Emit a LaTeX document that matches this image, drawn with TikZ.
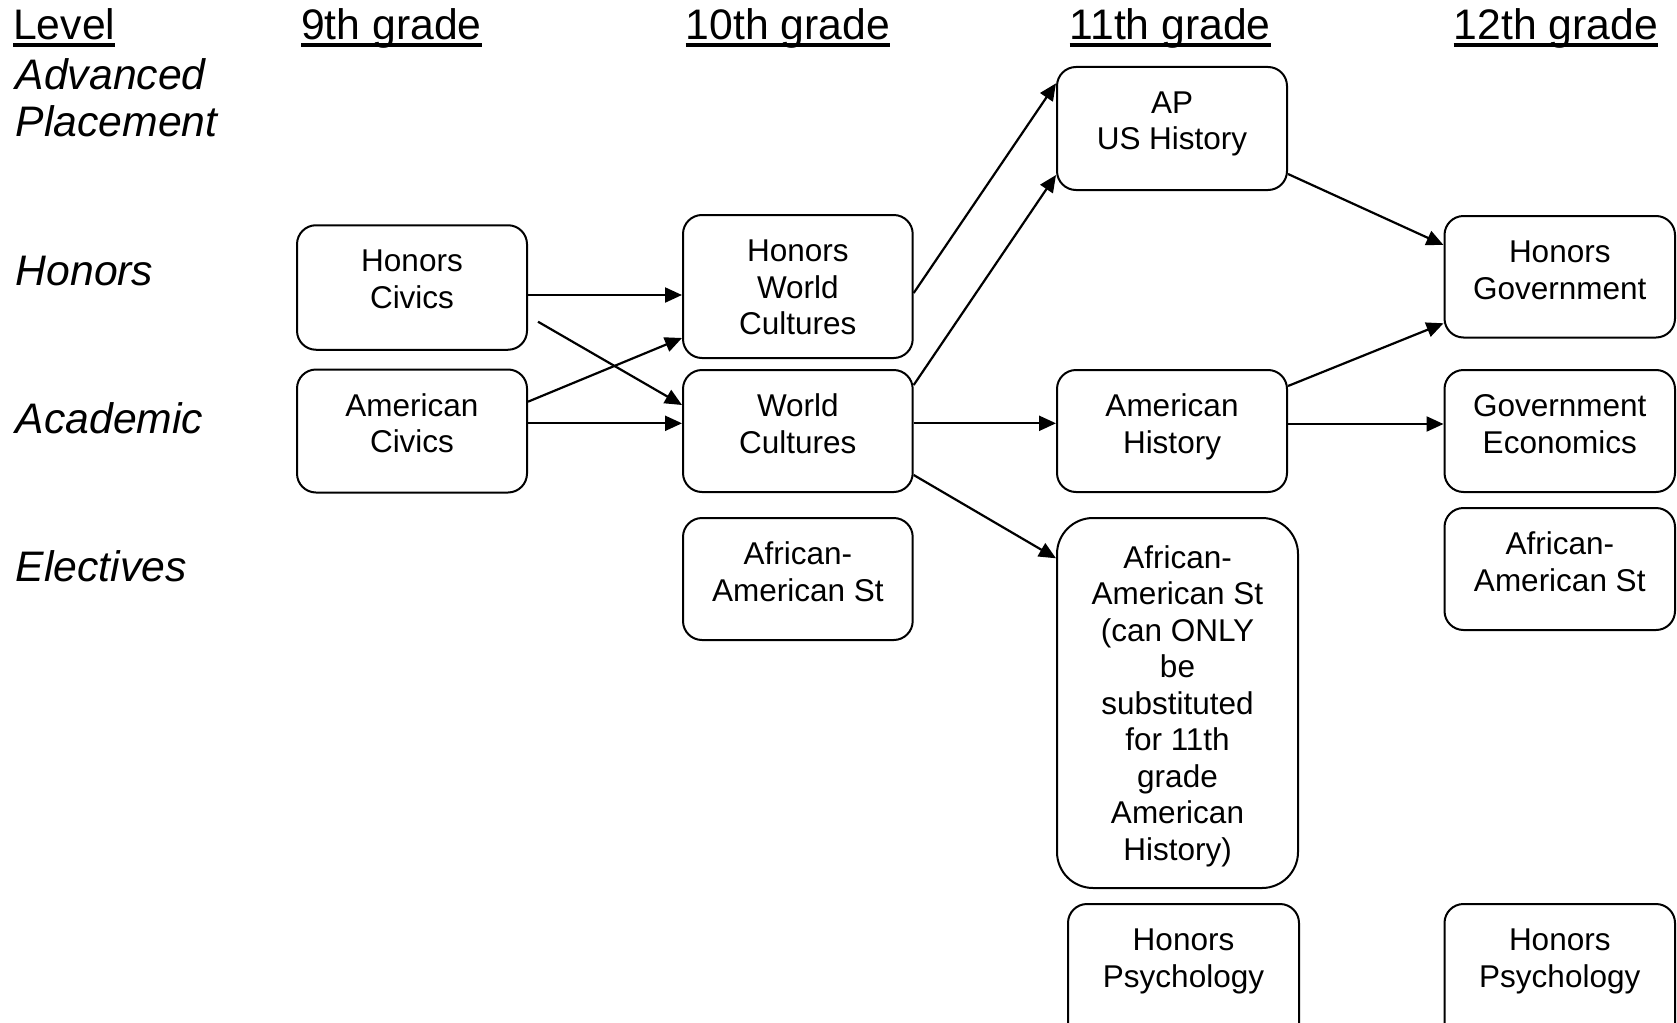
\documentclass[tikz,border=0pt]{standalone}
\usepackage{fontspec}
\setmainfont{Liberation Sans}
\usetikzlibrary{arrows.meta}
\newcommand{\boxtxt}[4]{\parbox[c][#2pt][t]{#1pt}{\centering\rule{0pt}{#3pt}#4}}
\newcommand{\ulhead}[1]{\setbox0=\hbox{#1}\rlap{\rule[-8pt]{\wd0}{4.3pt}}\box0}
\tikzset{
  box/.style={draw, line width=2pt, rounded corners=19pt, inner sep=0pt,
    font=\fontsize{31.5}{36.5}\selectfont},
  arr/.style={line width=2.2pt, -{Triangle[length=17pt,width=15pt]}},
  head/.style={anchor=base west, inner sep=0pt, font=\fontsize{42.7}{49}\selectfont},
  lvl/.style={anchor=base west, inner sep=0pt, font=\fontsize{42.7}{47.5}\selectfont\itshape},
}
\begin{document}
\begin{tikzpicture}[x=1pt,y=-1pt]
\useasboundingbox (0,0) rectangle (1677,1022);
\clip (0,0) rectangle (1677,1022);
% headers
\node[head] (hlevel) at (13,39.3) {\ulhead{Level}};
\node[head] (h9) at (301,39.3) {\ulhead{9th grade}};
\node[head] (h10) at (685.5,39.3) {\ulhead{10th grade}};
\node[head] (h11) at (1069.5,39.3) {\ulhead{11th grade}};
\node[head] (h12) at (1453.5,39.3) {\ulhead{12th grade}};
% levels
\node[lvl] (lap) at (15.5,89.3) {\begin{tabular}[t]{@{}l@{}}Advanced\\Placement\end{tabular}};
\node[lvl] (lhon) at (15.5,285.7) {Honors};
\node[lvl] (laca) at (15.5,433) {Academic};
\node[lvl] (lele) at (15.5,581.7) {Electives};
% 9th
\node[box] (hciv) at (412,287.5) {\boxtxt{230}{124.5}{46.5}{Honors\\Civics}};
\node[box] (aciv) at (412,431) {\boxtxt{230}{123}{46.5}{American\\Civics}};
% 10th
\node[box] (hwc) at (797.85,286.5) {\boxtxt{229.7}{143}{46.5}{Honors\\World\\Cultures}};
\node[box] (wc) at (797.85,431) {\boxtxt{229.7}{122}{46.5}{World\\Cultures}};
\node[box] (aas10) at (797.85,579) {\boxtxt{229.7}{122}{46.5}{African-\\American St}};
% 11th
\node[box] (apus) at (1172,128.5) {\boxtxt{230}{123}{46.5}{AP\\US History}};
\node[box] (amh) at (1172,431) {\boxtxt{230}{122}{46.5}{American\\History}};
\node[box, rounded corners=36pt] (aas11) at (1177.5,703) {\boxtxt{241}{370}{50}{African-\\American St\\(can ONLY\\be\\substituted\\for 11th\\grade\\American\\History)}};
\node[box] (hpsy11) at (1183.5,979) {\boxtxt{231}{150}{46.5}{Honors\\Psychology}};
% 12th
\node[box] (hgov) at (1559.75,276.75) {\boxtxt{230.5}{121.5}{46.5}{Honors\\Government}};
\node[box] (gecon) at (1559.75,431) {\boxtxt{230.5}{122}{46.5}{Government\\Economics}};
\node[box] (aas12) at (1559.75,569) {\boxtxt{230.5}{122}{46.5}{African-\\American St}};
\node[box] (hpsy12) at (1559.75,979) {\boxtxt{230.5}{150}{46.5}{Honors\\Psychology}};
% connectors
\coordinate (hcstart) at (538,321.7);
\draw[arr] ([yshift=-7.5pt]hciv.east) -- ([yshift=-8.5pt]hwc.west);
\draw[arr] ([yshift=29.3pt]aciv.east) -- ([yshift=-51.5pt]hwc.west);
\draw[arr] (hcstart) -- ([yshift=26pt]wc.west);
\draw[arr] ([yshift=7.7pt]aciv.east) -- ([yshift=7.7pt]wc.west);
\draw[arr] ([yshift=-6.5pt]hwc.east) -- ([yshift=45.2pt]apus.west);
\draw[arr] ([yshift=46pt]wc.east) -- ([yshift=-46.5pt]apus.west);
\draw[arr] ([yshift=-45.5pt]apus.east) -- ([yshift=31.75pt]hgov.west);
\draw[arr] ([yshift=7.7pt]wc.east) -- ([yshift=7.7pt]amh.west);
\draw[arr] ([yshift=-44pt]wc.east) -- ([yshift=144.7pt]aas11.west);
\draw[arr] ([yshift=45pt]amh.east) -- ([yshift=-46.55pt]hgov.west);
\draw[arr] ([yshift=7pt]amh.east) -- ([yshift=7pt]gecon.west);
\end{tikzpicture}
\end{document}
